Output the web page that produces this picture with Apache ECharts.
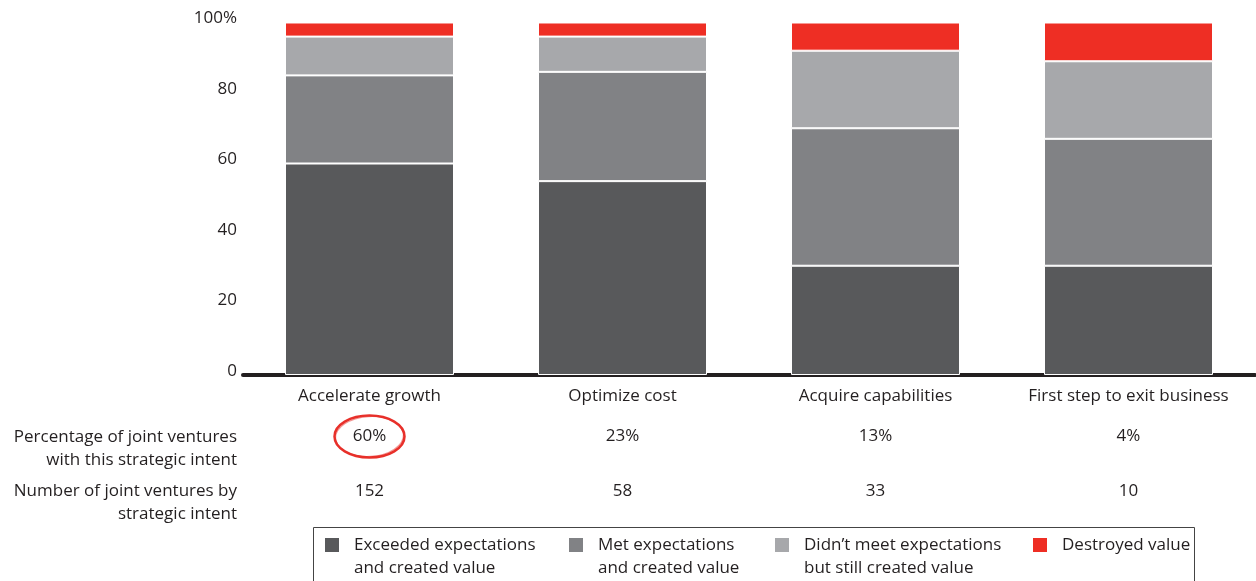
<!DOCTYPE html>
<html>
<head>
<meta charset="utf-8">
<script src="https://cdn.jsdelivr.net/npm/echarts@6/dist/echarts.min.js"></script>
<style>
  html, body { margin: 0; padding: 0; background: #fff; }
  #chart { width: 1256px; height: 581px; }
</style>
</head>
<body>
<div id="chart"></div>
<script>
const categories = ['Accelerate growth', 'Optimize cost', 'Acquire capabilities', 'First step to exit business'];
const exceeded = [60, 55, 31, 31];
const met = [25, 31, 39, 36];
const didntMeet = [11, 10, 22, 22];
const destroyed = [4, 4, 8, 11];
const pctLabels = ['60%', '23%', '13%', '4%'];
const countLabels = ['152', '58', '33', '10'];
const seriesNames = ['Exceeded expectations\nand created value', 'Met expectations\nand created value', 'Didn\u2019t meet expectations\nbut still created value', 'Destroyed value'];
const rowLabels = ['Percentage of joint ventures\nwith this strategic intent', 'Number of joint ventures by\nstrategic intent'];

const FONT = 'Open Sans';
const FS = 17;
const TXT = '#231f20';
const colors = ['#58595b', '#818285', '#a7a8ab', '#ee2e24'];

const chart = echarts.init(document.getElementById('chart'), null, { renderer: 'canvas' });

function barSeries(name, data, color) {
  return {
    name: name,
    type: 'bar',
    stack: 'total',
    xAxisIndex: 0,
    barWidth: 169,
    data: data,
    itemStyle: { color: color, borderColor: '#ffffff', borderWidth: 1 },
    emphasis: { disabled: true },
    animation: false
  };
}

const labelCommon = { fontFamily: FONT, fontSize: FS, color: TXT, margin: 13, interval: 0, hideOverlap: false };

const option = {
  animation: false,
  textStyle: { fontFamily: FONT },
  grid: { left: 243, right: 1, top: 22.5, bottom: 206 },
  xAxis: [
    {
      type: 'category', data: categories, position: 'bottom',
      axisLine: { show: true, lineStyle: { color: TXT, width: 4 } },
      axisTick: { show: false },
      axisLabel: Object.assign({}, labelCommon),
      splitLine: { show: false }
    },
    {
      type: 'category', data: pctLabels, position: 'bottom', offset: 40,
      axisLine: { show: false }, axisTick: { show: false },
      axisLabel: Object.assign({}, labelCommon),
      splitLine: { show: false }
    },
    {
      type: 'category', data: countLabels, position: 'bottom', offset: 95,
      axisLine: { show: false }, axisTick: { show: false },
      axisLabel: Object.assign({}, labelCommon),
      splitLine: { show: false }
    }
  ],
  yAxis: {
    type: 'value', min: 0, max: 100, interval: 20,
    axisLine: { show: false }, axisTick: { show: false }, splitLine: { show: false },
    axisLabel: {
      fontFamily: FONT, fontSize: FS, color: TXT, margin: 6,
      verticalAlign: 'bottom', lineHeight: 8,
      formatter: v => v === 100 ? '100%' : String(v)
    }
  },
  legend: {
    left: 323, top: 510.5, padding: 0, itemGap: 0,
    itemWidth: 16, itemHeight: 16, icon: 'rect',
    selectedMode: false,
    textStyle: { fontFamily: FONT, fontSize: FS, color: TXT, lineHeight: 23, padding: [0, 0, 0, 9] },
    data: [
      { name: seriesNames[0], textStyle: { width: 213 } },
      { name: seriesNames[1], textStyle: { width: 175 } },
      { name: seriesNames[2], textStyle: { width: 227 } },
      { name: seriesNames[3], textStyle: { width: 130 } }
    ],
    formatter: name => name.indexOf('\n') >= 0 ? '\n' + name : name
  },
  series: [
    barSeries(seriesNames[0], exceeded, colors[0]),
    barSeries(seriesNames[1], met, colors[1]),
    barSeries(seriesNames[2], didntMeet, colors[2]),
    barSeries(seriesNames[3], destroyed, colors[3])
  ]
};

chart.setOption(option);

// annotations: row labels, legend frame, highlight ellipse
const cx0 = chart.convertToPixel({ xAxisIndex: 1 }, pctLabels[0]);
chart.setOption({
  graphic: [
    {
      type: 'text', silent: true,
      style: { text: rowLabels[0], x: 237, y: 425, align: 'right', verticalAlign: 'top', lineHeight: 23.5, fontFamily: FONT, fontSize: FS, fill: TXT }
    },
    {
      type: 'text', silent: true,
      style: { text: rowLabels[1], x: 237, y: 479, align: 'right', verticalAlign: 'top', lineHeight: 23.5, fontFamily: FONT, fontSize: FS, fill: TXT }
    },
    {
      type: 'rect', silent: true,
      shape: { x: 313.5, y: 527.5, width: 881, height: 80 },
      style: { fill: 'none', stroke: '#444', lineWidth: 1 }
    },
    {
      type: 'ellipse', silent: true,
      shape: { cx: cx0, cy: 436.5, rx: 35, ry: 21 },
      style: { fill: 'none', stroke: '#e8302a', lineWidth: 2.5 }
    },
    {
      type: 'ellipse', silent: true,
      x: cx0, y: 436.5, rotation: 0.06,
      shape: { cx: 0, cy: 0, rx: 34, ry: 20 },
      style: { fill: 'none', stroke: 'rgba(232,48,42,0.5)', lineWidth: 1.2 }
    }
  ]
});
</script>
</body>
</html>
